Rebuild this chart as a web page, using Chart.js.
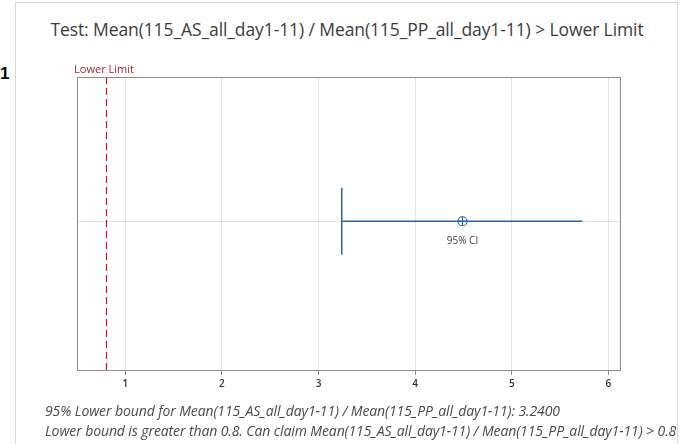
<!DOCTYPE html>
<html>
<head>
<meta charset="utf-8">
<script src="https://cdn.jsdelivr.net/npm/chart.js@4/dist/chart.umd.min.js"></script>
<style>
  html,body{margin:0;padding:0;background:#fff;}
  #wrap{position:relative;width:681px;height:444px;overflow:hidden;font-family:"Open Sans","Noto Sans",sans-serif;}
  #frame{position:absolute;left:15px;top:2px;width:663px;height:460px;border:1px solid #d9d9d9;border-bottom:none;box-sizing:border-box;}
  #num{position:absolute;left:0;top:64px;font:bold 17px "Liberation Sans",Arial,sans-serif;color:#000;}
  #title{position:absolute;left:15px;width:664px;top:17px;text-align:center;font-size:17.5px;color:#3c3c3c;letter-spacing:-0.1px;white-space:nowrap;}
  #foot{position:absolute;left:45px;top:401px;font-style:italic;font-size:14px;line-height:20px;color:#4a4a4a;white-space:nowrap;letter-spacing:-0.1px;}
  canvas{position:absolute;left:0;top:0;}
</style>
</head>
<body>
<div id="wrap">
  <div id="frame"></div>
  <div id="num">1</div>
  <div id="title">Test: Mean(115_AS_all_day1-11) / Mean(115_PP_all_day1-11) &gt; Lower Limit</div>
  <canvas id="c" width="681" height="444"></canvas>
  <div id="foot">95% Lower bound for Mean(115_AS_all_day1-11) / Mean(115_PP_all_day1-11): 3.2400<br>Lower bound is greater than 0.8. Can claim Mean(115_AS_all_day1-11) / Mean(115_PP_all_day1-11) &gt; 0.8</div>
</div>
<script>
// ---- data ----
const tickValues = [1, 2, 3, 4, 5, 6];
const tickLabels = ["1", "2", "3", "4", "5", "6"];
const lowerLimit = [0.8];
const ciLower = [3.24];
const ciUpper = [5.73];
const estimate = [4.49];
const rowValue = [1];
const ciLabel = ["95% CI"];
const limitLabel = ["Lower Limit"];

const blue = '#2563ad';
const red = '#c8102e';

const overlay = {
  id: 'overlay',
  beforeDatasetsDraw(chart) {
    const {ctx, chartArea: a, scales: {x, y}} = chart;
    const lx = Math.round(x.getPixelForValue(lowerLimit[0])) + 0.5;
    ctx.save();
    ctx.strokeStyle = red;
    ctx.lineWidth = 1.2;
    ctx.setLineDash([7, 4]);
    ctx.beginPath();
    ctx.moveTo(lx, a.top);
    ctx.lineTo(lx, a.bottom);
    ctx.stroke();
    ctx.restore();
  },
  afterDraw(chart) {
    const {ctx, chartArea: a, scales: {x, y}} = chart;
    ctx.save();
    ctx.strokeStyle = '#8a8a8a';
    ctx.lineWidth = 1;
    ctx.strokeRect(Math.round(a.left) + 0.5, Math.round(a.top) + 0.5, Math.round(a.right - a.left), Math.round(a.bottom - a.top));
    const lx = x.getPixelForValue(lowerLimit[0]);
    ctx.fillStyle = '#a3262b';
    ctx.font = '11px "Open Sans", "Noto Sans", sans-serif';
    ctx.textAlign = 'center';
    ctx.textBaseline = 'bottom';
    ctx.fillText(limitLabel[0], lx - 2, a.top - 2);
    ctx.fillStyle = '#404040';
    ctx.font = '10px "Open Sans", "Noto Sans", sans-serif';
    ctx.textBaseline = 'middle';
    ctx.fillText(ciLabel[0], x.getPixelForValue(estimate[0]), y.getPixelForValue(rowValue[0]) + 20);
    ctx.restore();
  }
};

new Chart(document.getElementById('c'), {
  type: 'scatter',
  data: {
    datasets: [
      {
        data: [{x: ciLower[0], y: rowValue[0]}, {x: ciUpper[0], y: rowValue[0]}],
        showLine: true, borderColor: blue, borderWidth: 1.5, pointRadius: 0
      },
      {
        data: [{x: ciLower[0], y: rowValue[0]}],
        pointStyle: 'line', rotation: 90, pointRadius: 33.5,
        borderColor: blue, borderWidth: 1.5, backgroundColor: blue
      },
      {
        data: [{x: estimate[0], y: rowValue[0]}],
        pointStyle: 'circle', pointRadius: 4.5, borderColor: blue, borderWidth: 1.1,
        backgroundColor: 'rgba(255,255,255,0)'
      },
      {
        data: [{x: estimate[0], y: rowValue[0]}],
        pointStyle: 'cross', pointRadius: 4.5, borderColor: blue, borderWidth: 1.1
      }
    ]
  },
  options: {
    responsive: false,
    animation: false,
    events: [],
    layout: {padding: {left: 77, right: 61, top: 77, bottom: 0}},
    plugins: {legend: {display: false}, tooltip: {enabled: false}},
    scales: {
      x: {
        type: 'linear', min: 0.5, max: 6.12,
        afterBuildTicks: s => { s.ticks = tickValues.map(v => ({value: v})); },
        afterFit: s => { s.height = 74; },
        border: {display: false},
        grid: {color: '#e3e3e3', lineWidth: 1, drawTicks: true, tickLength: 5, tickColor: '#8a8a8a'},
        ticks: {
          callback: (v, i) => tickLabels[i],
          color: '#333', padding: 3, maxRotation: 0,
          font: {family: '"Open Sans", "Noto Sans", sans-serif', size: 10, weight: '600'}
        }
      },
      y: {
        type: 'linear', min: 0, max: 1.97,
        afterBuildTicks: s => { s.ticks = rowValue.map(v => ({value: v})); },
        afterFit: s => { s.width = 0; },
        border: {display: false},
        grid: {color: '#e3e3e3', drawTicks: false},
        ticks: {display: false}
      }
    }
  },
  plugins: [overlay]
});
</script>
</body>
</html>
